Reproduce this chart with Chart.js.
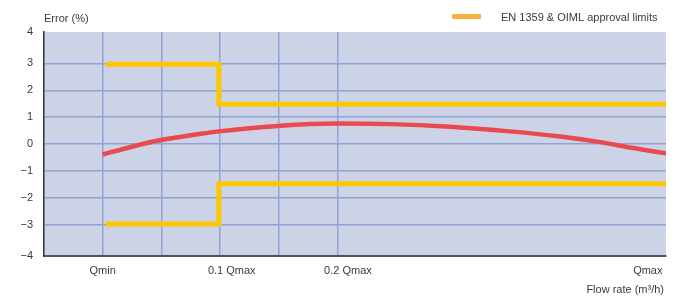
<!DOCTYPE html>
<html>
<head>
<meta charset="utf-8">
<script src="https://cdn.jsdelivr.net/npm/chart.js@4.4.1/dist/chart.umd.min.js"></script>
<style>
  body { margin: 0; background: #fff; }
  #wrap { width: 676px; height: 296px; }
</style>
</head>
<body>
<div id="wrap"><canvas id="myChart"></canvas></div>
<script>
const ctx = document.getElementById('myChart');

// measured error curve (x in gridline units, Qmin = 1)
const flow = [1.0, 1.48, 1.95, 2.67, 2.98, 3.98, 5.0, 5.9, 6.92, 7.94, 8.8, 9.48, 9.99, 10.6];
const error = [-0.39, -0.11, 0.13, 0.38, 0.47, 0.67, 0.76, 0.74, 0.64, 0.47, 0.28, 0.07, -0.13, -0.35];

// approval limits
const upperX = [1.05, 2.98, 2.98, 10.6];
const upperY = [2.97, 2.97, 1.48, 1.48];
const lowerX = [1.05, 2.98, 2.98, 10.6];
const lowerY = [-2.98, -2.98, -1.48, -1.48];

// axes
const xTicks = [1, 2, 3, 3.2, 4, 5, 5.18, 10.29];
const xLabels = ['Qmin', '', '', '0.1 Qmax', '', '', '0.2 Qmax', 'Qmax'];
const xGrid = [true, true, true, false, true, true, false, false];
const yTicks = [-4.17, -3, -2, -1, 0, 1, 2, 3, 4.17];
const yLabels = ['\u22124', '\u22123', '\u22122', '\u22121', '0', '1', '2', '3', '4'];

const gridColor = '#8fa4d4';
const limitColor = '#ffc600';
const fontFamily = "'Liberation Sans', Arial, sans-serif";

const toPoints = (xs, ys) => xs.map((x, i) => ({ x: x, y: ys[i] }));

Chart.defaults.font.family = fontFamily;
Chart.defaults.font.size = 11;
Chart.defaults.color = '#3a3a3a';

//plot background + extra texts
const decor = {
  id: 'decor',
  beforeDraw(chart) {
    const a = chart.chartArea;
    const c = chart.ctx;
    c.save();
    c.fillStyle = '#cdd3e6';
    c.fillRect(a.left, a.top, a.right - a.left, a.bottom - a.top);
    c.restore();
  },
  afterDraw(chart) {
    const c = chart.ctx;
    c.save();
    c.font = '11px ' + fontFamily;
    c.fillStyle = '#3a3a3a';
    c.textBaseline = 'middle';
    c.textAlign = 'left';
    c.fillText('Error (%)', 44, 19);
    c.fillText('EN 1359 & OIML approval limits', 501, 18);
    c.textAlign = 'right';
    c.fillText('Flow rate (m\u00b3/h)', 664, 290);
    c.fillStyle = '#f8b040';
    c.fillRect(452, 14, 29, 5);
    c.restore();
  },
};

new Chart(ctx, {
  type: 'line',
  data: {
    datasets: [
      {
        data: toPoints(upperX, upperY),
        borderColor: limitColor,
        borderWidth: 5,
        pointRadius: 0,
        borderJoinStyle: 'miter',
      },
      {
        data: toPoints(lowerX, lowerY),
        borderColor: limitColor,
        borderWidth: 5,
        pointRadius: 0,
        borderJoinStyle: 'miter',
      },
      {
        data: toPoints(flow, error),
        borderColor: '#e84a4f',
        borderWidth: 4.5,
        pointRadius: 0,
        cubicInterpolationMode: 'monotone',
      },
    ],
  },
  options: {
    responsive: true,
    maintainAspectRatio: false,
    animation: false,
    layout: {
      padding: { top: 32, right: 10, left: 0, bottom: 0 },
    },
    plugins: {
      legend: { display: false },
      tooltip: { enabled: false },
    },
    scales: {
      x: {
        type: 'linear',
        min: 0,
        max: 10.6,
        afterFit: (s) => { s.height = 40; },
        afterBuildTicks: (s) => { s.ticks = xTicks.map((v) => ({ value: v })); },
        ticks: {
          autoSkip: false,
          maxRotation: 0,
          padding: 8,
          callback: (value, index) => xLabels[index],
        },
        grid: {
          drawTicks: false,
          lineWidth: 1.5,
          color: (c) => (xGrid[c.index] ? gridColor : 'transparent'),
        },
        border: { display: true, color: '#555', width: 2 },
      },
      y: {
        min: -4.17,
        max: 4.17,
        afterFit: (s) => { s.width = 44; },
        afterBuildTicks: (s) => { s.ticks = yTicks.map((v) => ({ value: v })); },
        ticks: {
          padding: 11,
          callback: (value, index) => yLabels[index],
        },
        grid: {
          drawTicks: false,
          lineWidth: 1.5,
          color: (c) => (c.index === 0 || c.index === yTicks.length - 1 ? 'transparent' : gridColor),
        },
        border: { display: true, color: '#333', width: 1.5 },
      },
    },
  },
  plugins: [decor],
});
</script>
</body>
</html>
